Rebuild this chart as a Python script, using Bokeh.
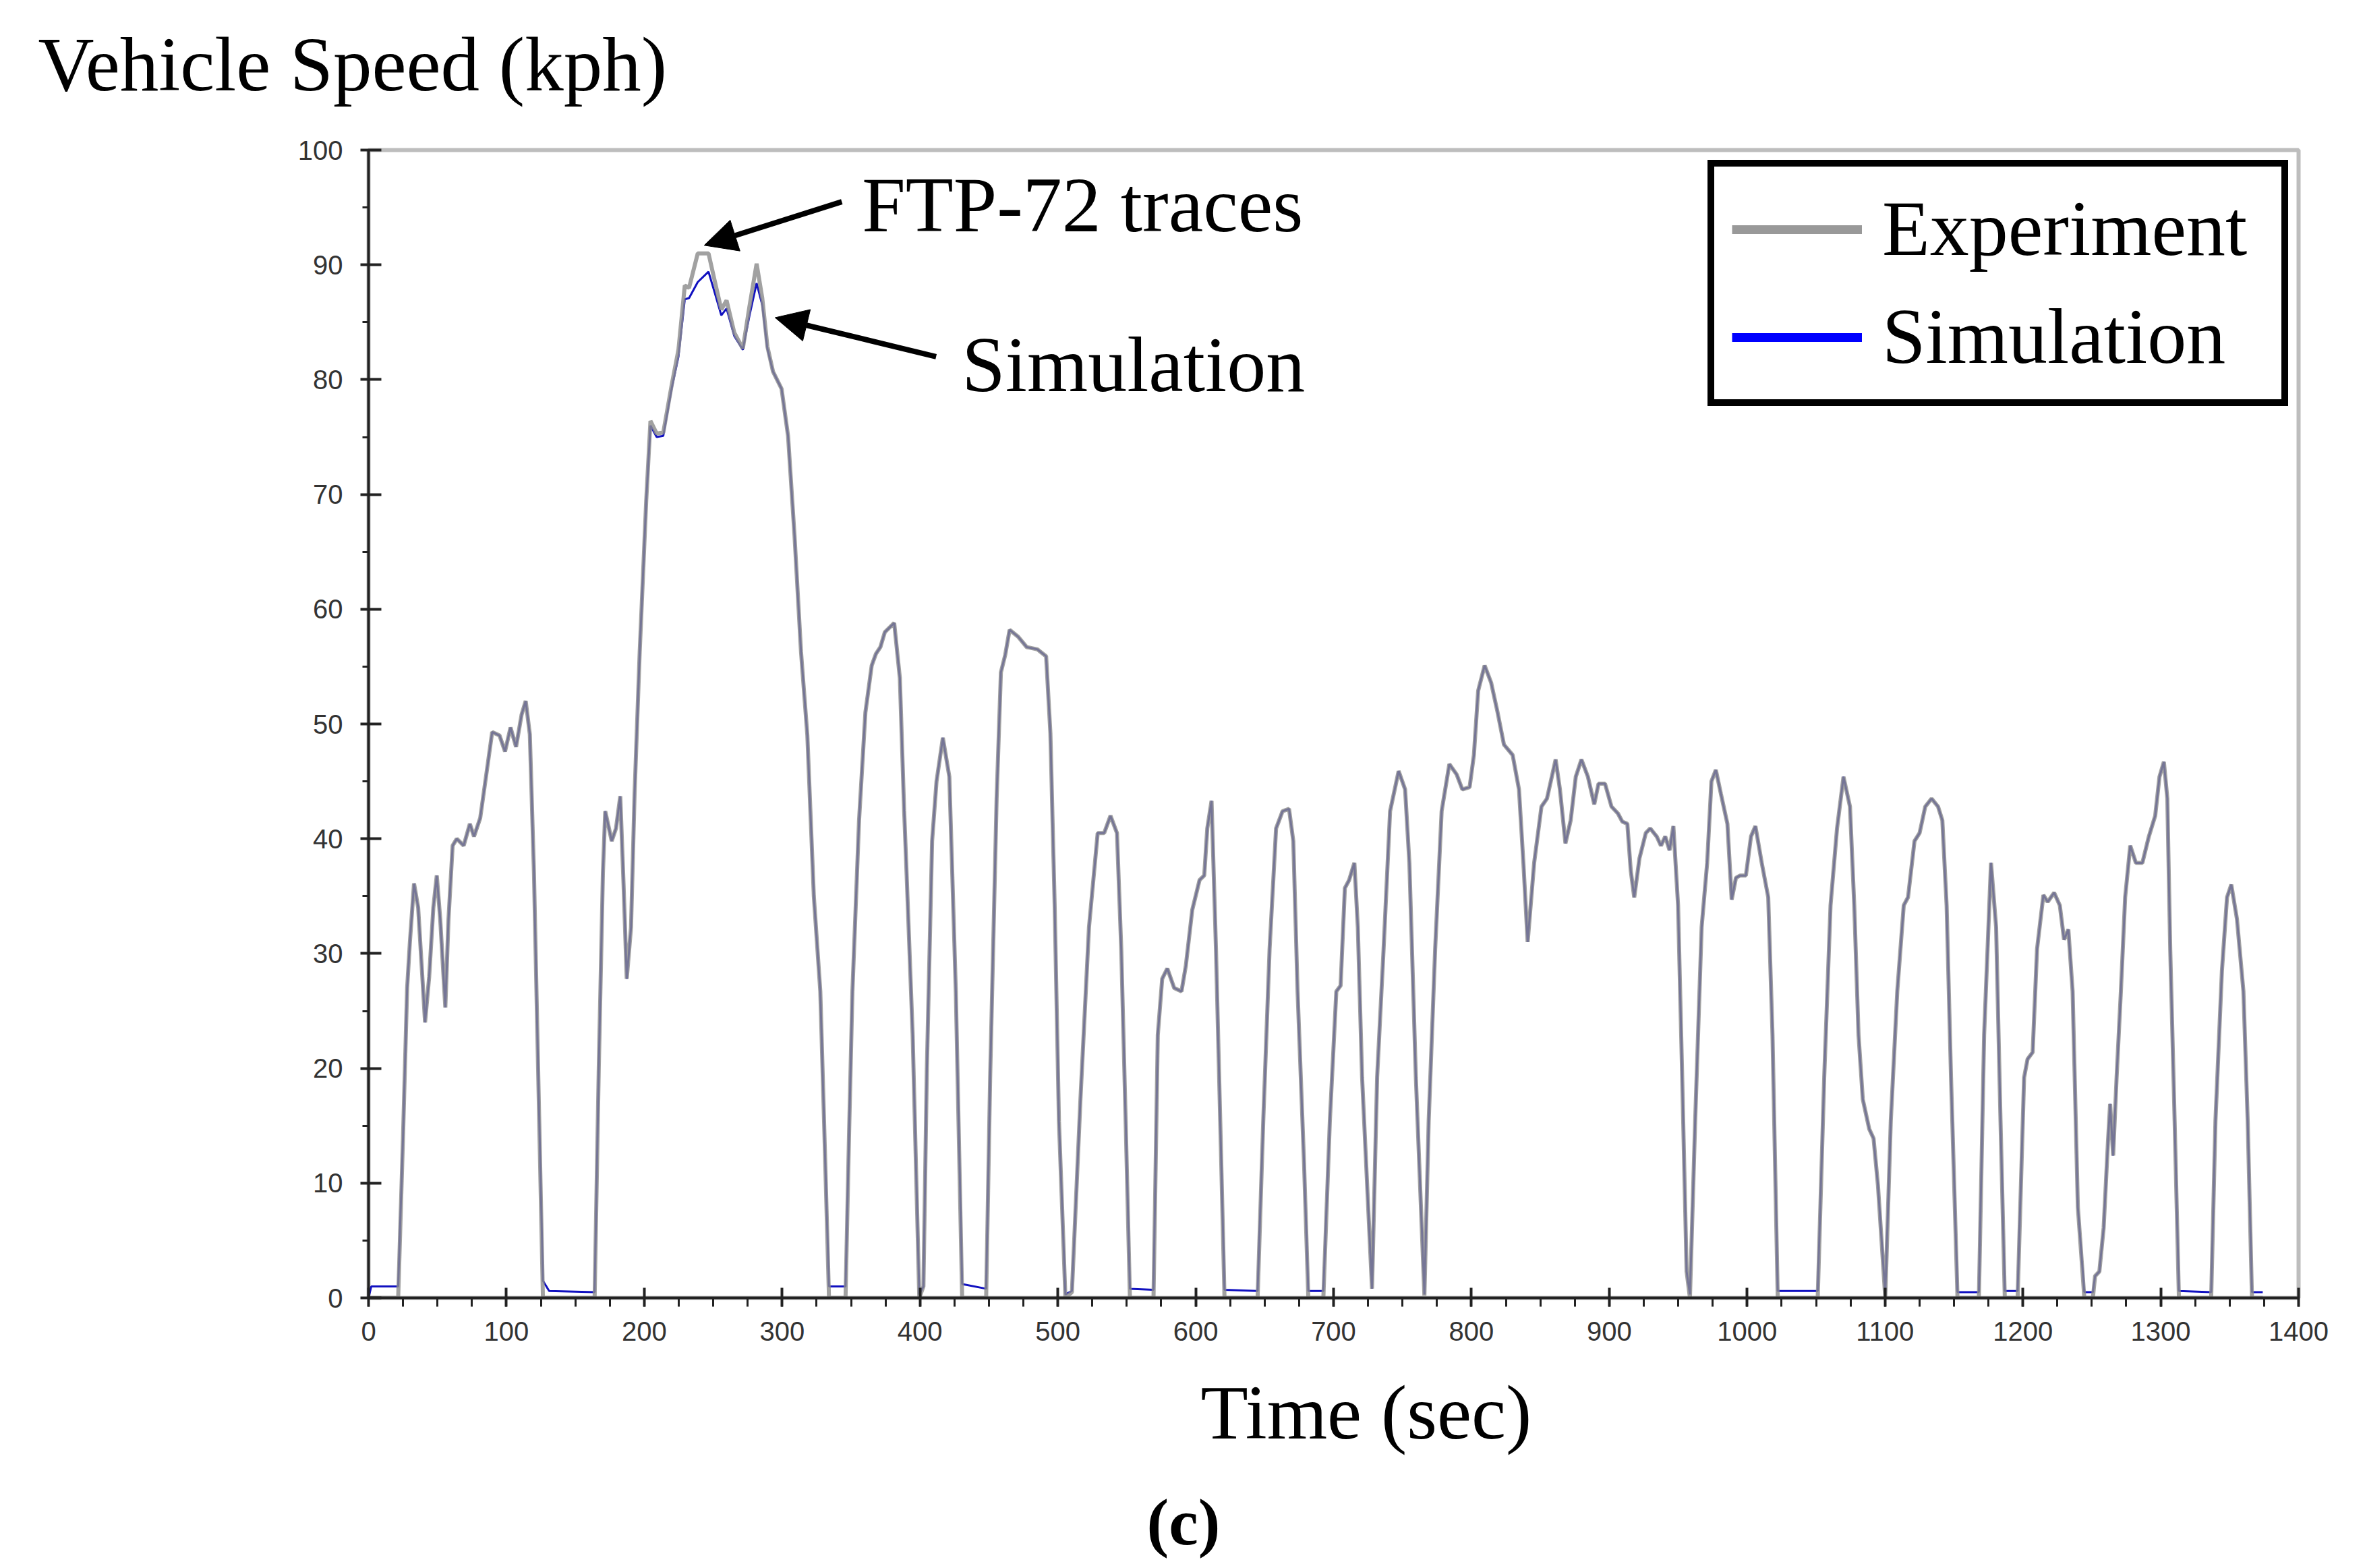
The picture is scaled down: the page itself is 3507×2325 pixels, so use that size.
from bokeh.plotting import figure
from bokeh.models import (ColumnDataSource, Range1d, FixedTicker, Label, Arrow,
                          NormalHead, Legend, LegendItem, Title)
from bokeh.embed import file_html
from bokeh.resources import INLINE

# ---------------- data ----------------
time = [
    0, 2, 20, 21.5, 25, 28, 30, 33, 36, 38,
    41, 44, 47, 49.5, 52, 55.7, 58, 61, 64, 69,
    73.5, 76.5, 81, 86, 89.7, 95, 99, 103, 107, 111,
    114, 117, 120, 123, 126.5, 131, 164, 167, 170, 171.7,
    176.4, 179.5, 182.6, 185, 187.3, 190.4, 193, 196.7, 201.4, 204.5,
    209, 213.8, 220, 224.8, 229.4, 232.5, 238.8, 246.6, 251.3, 255.9,
    259.7, 265.3, 271.5, 276.2, 281.5, 285.6, 289.3, 293.4, 299.6, 304.3,
    309, 313.7, 318.3, 323, 327.7, 331, 334, 346, 348.5, 351,
    355.8, 360.4, 365, 368, 371.3, 374.5, 381.3, 385.4, 388.5, 390,
    394.7, 399.5, 402.5, 405, 408.8, 412, 416.6, 421.3, 426, 430.6,
    448, 450.9, 455.6, 458.7, 461.8, 465, 471.2, 477.4, 485.2, 491.5,
    494.6, 497.7, 500.8, 505.5, 510.2, 516.4, 522.6, 528.9, 533.6, 538.2,
    542.9, 546, 549.2, 552.3, 569.4, 572.5, 575.7, 579.4, 584.4, 589.7,
    592.8, 597.5, 602.8, 606.2, 608.4, 611.5, 614.7, 617.8, 620.9, 644.9,
    649, 653.6, 658.3, 663, 667.7, 670.8, 673.9, 678.6, 681.7, 692.6,
    697.3, 702, 705.1, 708.2, 711.3, 715.1, 717.6, 720.7, 727.9, 731.6,
    736.3, 741, 747.2, 751.9, 755, 759.7, 765.9, 769, 773.7, 778.4,
    784, 789.3, 793.4, 798.7, 801.8, 804.9, 809.6, 814.3, 819, 823.6,
    829.9, 834.5, 837.7, 840.8, 845.5, 850.8, 854.8, 861.1, 864.2, 868.2,
    872, 875.7, 879.8, 884.5, 889.1, 892.2, 896.9, 901.6, 906.3, 909.4,
    913.1, 915.6, 918.1, 921.9, 926.5, 929.7, 934.4, 937.5, 940.6, 943.7,
    946.5, 949.9, 952.9, 956.1, 958.5, 962.3, 967, 971, 974.1, 977.3,
    981, 985.7, 988.8, 991.9, 995, 999.1, 1002.8, 1006, 1010.6, 1015.3,
    1018.4, 1022.2, 1051.2, 1055.9, 1060.5, 1065.2, 1069.9, 1074.6, 1077.7, 1080.8,
    1083.9, 1088.6, 1091.7, 1094.9, 1100.2, 1104.2, 1108.9, 1113.6, 1116.7, 1121.4,
    1125.1, 1129.2, 1133.8, 1138.5, 1141.6, 1144.7, 1147.9, 1152.6, 1168.1, 1171.9,
    1176.9, 1180.6, 1183.8, 1186.9, 1196.2, 1200.9, 1203.4, 1207.1, 1210.3, 1214.9,
    1218, 1222.7, 1226.8, 1229.9, 1233, 1236.1, 1239.9, 1244.6, 1250.8, 1252.4,
    1255.5, 1258.6, 1261.7, 1263.3, 1265.5, 1268, 1271.1, 1274.2, 1277.9, 1282,
    1286.7, 1291.4, 1296, 1299.1, 1302.3, 1304.8, 1306.9, 1310.1, 1313.2, 1336.6,
    1339.7, 1344.4, 1348.1, 1351.2, 1355.3, 1360, 1363.1, 1366.2, 1374,
]

experiment = [
    0, 0, 0, 0, 14, 27, 31, 36.1, 34, 30,
    24, 28, 34, 36.8, 33, 25.3, 33, 39.4, 40, 39.4,
    41.3, 40.2, 41.8, 46.1, 49.3, 49, 47.6, 49.7, 48, 50.8,
    52, 49.1, 37, 20, 0, 0, 0, 20, 37, 42.4,
    39.8, 40.9, 43.7, 36, 27.8, 32.3, 44, 56.3, 69.4, 76.4,
    75.3, 75.4, 79.6, 82.6, 88.2, 88.0, 91.0, 91.0, 88.5, 86.1,
    86.9, 84.1, 82.7, 86.3, 90.1, 87.1, 82.9, 80.7, 79.2, 75.1,
    66.4, 56.3, 49, 35, 26.7, 13, 0, 0, 14, 26.7,
    41.6, 51, 55.1, 56.1, 56.7, 58, 58.8, 54, 42.5, 37.9,
    22.9, 0, 1, 20, 39.8, 45, 48.8, 45.4, 26.7, 0,
    0, 19.2, 43.5, 54.5, 56, 58.2, 57.6, 56.7, 56.5, 55.9,
    49.2, 34.2, 15.4, 0, 0.5, 17.3, 32.3, 40.5, 40.5, 42,
    40.5, 30.4, 15.4, 0, 0, 22.9, 27.8, 28.7, 27, 26.7,
    28.9, 33.8, 36.4, 36.8, 40.9, 43.3, 30.4, 15.4, 0, 0,
    15.4, 30.4, 40.9, 42.4, 42.6, 39.8, 26.7, 11.7, 0, 0,
    15.4, 26.7, 27.2, 35.7, 36.4, 37.9, 32.3, 19.2, 0.8, 19.2,
    30.4, 42.4, 45.9, 44.3, 37.9, 19.2, 0.2, 15.4, 30.4, 42.4,
    46.5, 45.6, 44.3, 44.5, 47.3, 52.9, 55.1, 53.6, 51, 48.2,
    47.3, 44.3, 37.9, 31, 37.9, 42.8, 43.5, 46.9, 44.3, 39.6,
    41.6, 45.4, 46.9, 45.4, 43, 44.8, 44.8, 42.8, 42.2, 41.5,
    41.3, 37.2, 34.9, 38.3, 40.5, 40.9, 40.2, 39.4, 40.2, 39,
    41.1, 34.2, 19.2, 2.3, 0, 15.4, 32.3, 37.9, 45, 46,
    43.9, 41.3, 34.7, 36.6, 36.8, 36.8, 40.2, 41.1, 37.9, 34.9,
    22.9, 0, 0, 19.2, 34.2, 40.9, 45.4, 42.8, 34.2, 22.9,
    17.3, 14.7, 13.9, 9.8, 0, 15.4, 26.7, 34.2, 34.9, 39.8,
    40.5, 42.8, 43.5, 42.8, 41.6, 34.2, 19.2, 0, 0, 22.9,
    37.9, 32.3, 15.4, 0, 0, 19.2, 20.8, 21.4, 30.4, 35.1,
    34.5, 35.3, 34.2, 31.2, 32.1, 26.7, 7.9, 0, 0, 1.9,
    2.3, 6.1, 13.5, 16.9, 12.4, 19.2, 26.7, 34.9, 39.4, 37.9,
    37.9, 40.2, 42, 45.4, 46.7, 43.5, 30.4, 15.4, 0, 0,
    15.4, 28.5, 34.9, 36, 33, 26.7, 15.4, 0, 0,
]

simulation = [
    0, 1.0, 1.0, 1.0, 14, 27, 31, 36.1, 34, 30,
    24, 28, 34, 36.8, 33, 25.3, 33, 39.4, 40, 39.4,
    41.3, 40.2, 41.8, 46.1, 49.3, 49, 47.6, 49.7, 48, 50.8,
    52, 49.1, 37, 20, 1.5, 0.6, 0.5, 20, 37, 42.4,
    39.8, 40.9, 43.7, 36, 27.8, 32.3, 44, 56.3, 69.4, 76.0,
    75.0, 75.1, 79.3, 82.0, 87.0, 87.1, 88.5, 89.4, 87.5, 85.6,
    86.2, 83.8, 82.6, 85.5, 88.4, 86.5, 82.7, 80.7, 79.2, 75.1,
    66.4, 56.3, 49, 35, 26.7, 13, 1.0, 1.0, 14, 26.7,
    41.6, 51, 55.1, 56.1, 56.7, 58, 58.8, 54, 42.5, 37.9,
    22.9, 0.3, 1, 20, 39.8, 45, 48.8, 45.4, 26.7, 1.2,
    0.8, 19.2, 43.5, 54.5, 56, 58.2, 57.6, 56.7, 56.5, 55.9,
    49.2, 34.2, 15.4, 0.3, 0.6, 17.3, 32.3, 40.5, 40.5, 42,
    40.5, 30.4, 15.4, 0.8, 0.7, 22.9, 27.8, 28.7, 27, 26.7,
    28.9, 33.8, 36.4, 36.8, 40.9, 43.3, 30.4, 15.4, 0.7, 0.6,
    15.4, 30.4, 40.9, 42.4, 42.6, 39.8, 26.7, 11.7, 0.6, 0.6,
    15.4, 26.7, 27.2, 35.7, 36.4, 37.9, 32.3, 19.2, 0.8, 19.2,
    30.4, 42.4, 45.9, 44.3, 37.9, 19.2, 0.3, 15.4, 30.4, 42.4,
    46.5, 45.6, 44.3, 44.5, 47.3, 52.9, 55.1, 53.6, 51, 48.2,
    47.3, 44.3, 37.9, 31, 37.9, 42.8, 43.5, 46.9, 44.3, 39.6,
    41.6, 45.4, 46.9, 45.4, 43, 44.8, 44.8, 42.8, 42.2, 41.5,
    41.3, 37.2, 34.9, 38.3, 40.5, 40.9, 40.2, 39.4, 40.2, 39,
    41.1, 34.2, 19.2, 2.3, 0.3, 15.4, 32.3, 37.9, 45, 46,
    43.9, 41.3, 34.7, 36.6, 36.8, 36.8, 40.2, 41.1, 37.9, 34.9,
    22.9, 0.6, 0.6, 19.2, 34.2, 40.9, 45.4, 42.8, 34.2, 22.9,
    17.3, 14.7, 13.9, 9.8, 0.3, 15.4, 26.7, 34.2, 34.9, 39.8,
    40.5, 42.8, 43.5, 42.8, 41.6, 34.2, 19.2, 0.5, 0.5, 22.9,
    37.9, 32.3, 15.4, 0.6, 0.6, 19.2, 20.8, 21.4, 30.4, 35.1,
    34.5, 35.3, 34.2, 31.2, 32.1, 26.7, 7.9, 0.5, 0.5, 1.9,
    2.3, 6.1, 13.5, 16.9, 12.4, 19.2, 26.7, 34.9, 39.4, 37.9,
    37.9, 40.2, 42, 45.4, 46.7, 43.5, 30.4, 15.4, 0.6, 0.5,
    15.4, 28.5, 34.9, 36, 33, 26.7, 15.4, 0.5, 0.5,
]

x_ticks = [0, 100, 200, 300, 400, 500, 600, 700, 800, 900, 1000, 1100, 1200, 1300, 1400]
x_minor_ticks = list(range(0, 1401, 25))
y_ticks = [0, 10, 20, 30, 40, 50, 60, 70, 80, 90, 100]
y_minor_ticks = list(range(0, 101, 5))

series_names = ["Experiment", "Simulation"]
series_colors = ["#999999", "#0000ff"]

y_title = "Vehicle Speed (kph)"
x_title = "Time (sec)"
panel_tag = "(c)"
note_trace = "FTP-72 traces"
note_sim = "Simulation"

# ---------------- figure ----------------
SERIF = "Liberation Serif"
SANS = "Liberation Sans"

p = figure(width=3490, height=2317, output_backend="svg", toolbar_location=None,
           x_range=Range1d(0, 1400), y_range=Range1d(0, 100))
p.min_border_left = 546
p.min_border_right = 82
p.min_border_top = 222
p.min_border_bottom = 393
p.background_fill_color = "white"
p.border_fill_color = "white"
p.outline_line_color = "#bdbdbd"
p.outline_line_width = 6
p.xgrid.visible = False
p.ygrid.visible = False

# heading at the top-left (the plot title sits farthest from the frame;
# a thin spacer panel keeps it a little above the frame)
p.add_layout(Title(text=" ", text_font_size="1px", standoff=51), "above")
p.title.text = y_title
p.title.text_font = SERIF
p.title.text_font_size = "115px"
p.title.text_font_style = "normal"
p.title.text_color = "black"
p.title.align = "left"
p.title.offset = -490
p.title.standoff = 20

src = ColumnDataSource(dict(time=time, experiment=experiment, simulation=simulation))
p.line("time", "simulation", source=src, line_color="#1010c0", line_width=3)
p.line("time", "experiment", source=src, line_color="#8c8c8c", line_width=6, line_alpha=0.82)

# axes
for ax in (p.xaxis[0], p.yaxis[0]):
    ax.axis_line_color = "#222222"
    ax.axis_line_width = 4
    ax.major_tick_line_color = "#222222"
    ax.major_tick_line_width = 4
    ax.minor_tick_line_color = "#222222"
    ax.minor_tick_line_width = 3
    ax.major_label_text_font = SANS
    ax.major_label_text_font_size = "40px"
    ax.major_label_text_color = "#333333"

p.xaxis[0].ticker = FixedTicker(ticks=x_ticks, minor_ticks=x_minor_ticks)
p.xaxis[0].major_tick_in = 15
p.xaxis[0].major_tick_out = 13
p.xaxis[0].minor_tick_in = 0
p.xaxis[0].minor_tick_out = 13
p.xaxis[0].major_label_standoff = 22

p.yaxis[0].ticker = FixedTicker(ticks=y_ticks, minor_ticks=y_minor_ticks)
p.yaxis[0].major_tick_in = 19
p.yaxis[0].major_tick_out = 12
p.yaxis[0].minor_tick_in = 0
p.yaxis[0].minor_tick_out = 9
p.yaxis[0].major_label_standoff = 26

# x quantity label and panel tag, stacked below the axis
p.add_layout(Title(text=x_title, text_font=SERIF, text_font_size="115px",
                   text_font_style="normal", text_color="black", align="left",
                   offset=1234, standoff=81, vertical_align="top"), "below")
p.add_layout(Title(text=panel_tag, text_font=SERIF, text_font_size="98px",
                   text_font_style="bold", text_color="black", align="left",
                   offset=1154, standoff=0, vertical_align="bottom"), "below")

# annotation texts inside the plot
def add_label(text, x, y, size):
    p.add_layout(Label(x=x, y=y, x_units="data", y_units="data", text=text,
                       text_font=SERIF, text_font_size=size, text_color="black",
                       text_align="left", text_baseline="alphabetic"))

add_label(note_trace, 358.0, 95.2, "116px")
add_label(note_sim, 430.3, 81.3, "116px")

# arrows
p.add_layout(Arrow(end=NormalHead(size=48, fill_color="black", line_color="black"),
                   x_start=343.3, y_start=95.5, x_end=243.5, y_end=91.7,
                   line_color="black", line_width=8))
p.add_layout(Arrow(end=NormalHead(size=48, fill_color="black", line_color="black"),
                   x_start=411.7, y_start=82.0, x_end=294.9, y_end=85.4,
                   line_color="black", line_width=8))

# legend (proxy renderers carry the thick legend swatches; NaN -> nothing drawn in the plot)
nan = float("nan")
proxy_src = ColumnDataSource(dict(x=[nan], y=[nan]))
r_exp = p.line("x", "y", source=proxy_src, line_color=series_colors[0], line_width=13)
r_sim = p.line("x", "y", source=proxy_src, line_color=series_colors[1], line_width=13)
legend = Legend(items=[LegendItem(label=series_names[0], renderers=[r_exp]),
                       LegendItem(label=series_names[1], renderers=[r_sim])],
                location="top_right")
legend.margin = 15
legend.padding = 26
legend.spacing = 27
legend.glyph_width = 193
legend.glyph_height = 60
legend.label_standoff = 30
legend.label_width = 566
legend.label_text_font = SERIF
legend.label_text_font_size = "116px"
legend.label_text_color = "black"
legend.border_line_color = "black"
legend.border_line_alpha = 1.0
legend.border_line_width = 10
legend.background_fill_color = "white"
legend.background_fill_alpha = 1.0
p.add_layout(legend)

open("out.html", "w").write(file_html(p, INLINE))
